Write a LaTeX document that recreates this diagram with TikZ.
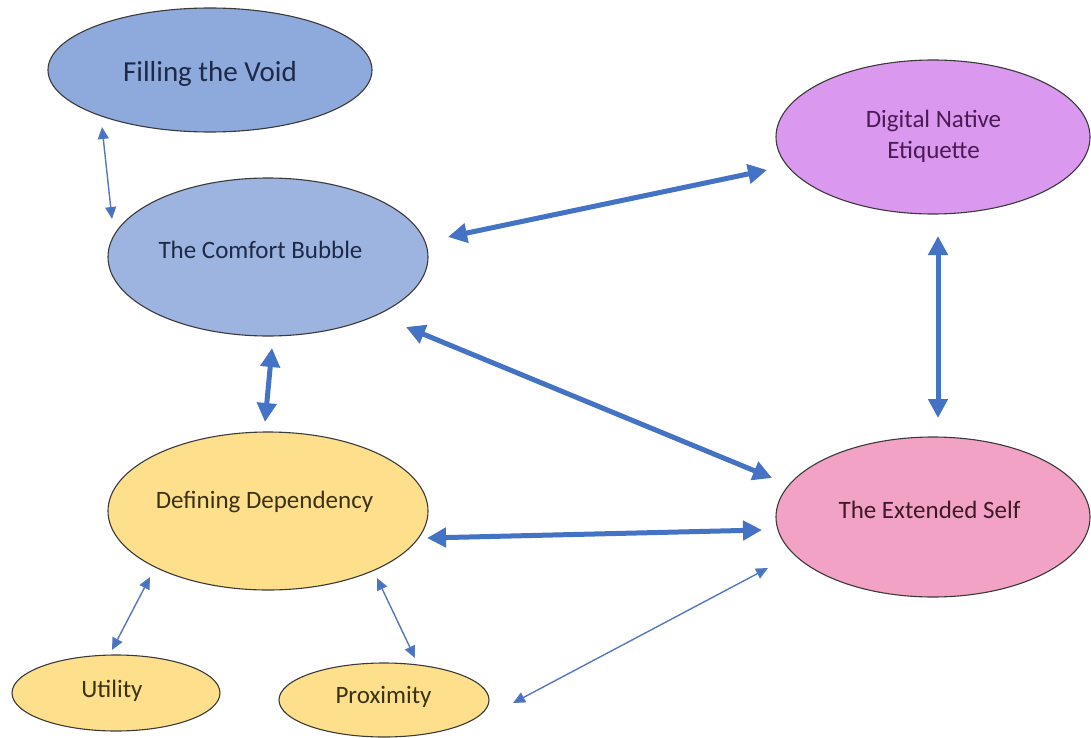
\documentclass[tikz,border=0pt]{standalone}
\usepackage{fontspec}
\setmainfont{Carlito}
\usetikzlibrary{shapes.geometric,arrows.meta,calc}
\definecolor{fvfill}{HTML}{8EA9DB}
\definecolor{cbfill}{HTML}{9DB4E0}
\definecolor{dnfill}{HTML}{DA98EE}
\definecolor{esfill}{HTML}{F2A2C4}
\definecolor{ylfill}{HTML}{FDDF8C}
\definecolor{edge}{HTML}{3A3A3A}
\definecolor{arrowblue}{HTML}{4472C4}
\definecolor{thinblue}{HTML}{5677BE}
\definecolor{bluetext}{HTML}{1C2A48}
\definecolor{purpletext}{HTML}{4A1A55}
\definecolor{pinktext}{HTML}{3E1A28}
\definecolor{yellowtext}{HTML}{3A3214}
\begin{document}
\begin{tikzpicture}[x=1pt,y=-1pt,
  oval/.style={ellipse, draw=edge, line width=1.1pt, inner sep=0pt, outer sep=0pt},
  lbl/.style={inner sep=0pt, anchor=base, font=\fontsize{25}{31}\selectfont},
  bigarrow/.style={draw=arrowblue, line width=5pt,
    {Triangle[length=19pt,width=19pt]}-{Triangle[length=19pt,width=19pt]}},
  thinarrow/.style={draw=thinblue, line width=1.4pt,
    {Triangle[length=12pt,width=11pt,fill=arrowblue]}-{Triangle[length=12pt,width=11pt,fill=arrowblue]}}]
\useasboundingbox[fill=white] (0,0) rectangle (1091,738);

% ellipses
\node[oval, fill=fvfill, minimum width=324pt, minimum height=124pt] (fv) at (210,70) {};
\node[oval, fill=cbfill, minimum width=320pt, minimum height=158pt] (cb) at (268,257) {};
\node[oval, fill=dnfill, minimum width=314pt, minimum height=154pt] (dn) at (933,137) {};
\node[oval, fill=esfill, minimum width=314pt, minimum height=160pt] (es) at (933,517) {};
\node[oval, fill=ylfill, minimum width=320pt, minimum height=158pt] (dd) at (268,511) {};
\node[oval, fill=ylfill, minimum width=208pt, minimum height=76pt] (ut) at (116,693) {};
\node[oval, fill=ylfill, minimum width=210pt, minimum height=74pt] (px) at (384,700) {};

% texts
\node[lbl, text=bluetext, font=\fontsize{29}{35}\selectfont] (fvt) at (210,82) {Filling the Void};
\node[lbl, text=bluetext] (cbt) at (260.5,258.5) {The Comfort Bubble};
\node[inner sep=0pt, align=center, text=purpletext, font=\fontsize{25}{31}\selectfont] (dnt) at (933.5,136) {Digital Native\\Etiquette};
\node[lbl, text=pinktext] (est) at (929.5,518.5) {The Extended Self};
\node[lbl, text=yellowtext] (ddt) at (264.5,508.5) {Defining Dependency};
\node[lbl, text=yellowtext] (utt) at (112,697) {Utility};
\node[lbl, text=yellowtext] (pxt) at (383.5,703) {Proximity};

% connectors
\draw[thinarrow] ($(fv)+(-108,57)$) -- ($(cb)+(-156,-38)$);
\draw[bigarrow] ($(cb)+(180,-20)$) -- ($(dn)+(-166,33)$);
\draw[bigarrow] ($(cb)+(138,70)$) -- ($(es)+(-161,-39)$);
\draw[bigarrow] ($(cb)+(4,91)$) -- ($(dd)+(-3,-89)$);
\draw[bigarrow] ($(dn)+(5,99)$) -- ($(es)+(5,-99)$);
\draw[bigarrow] ($(dd)+(159,27)$) -- ($(es)+(-171,13)$);
\draw[thinarrow] ($(dd)+(-118,66)$) -- ($(ut)+(-4,-43)$);
\draw[thinarrow] ($(dd)+(109,67)$) -- ($(px)+(31,-42)$);
\draw[thinarrow] ($(px)+(129,3)$) -- ($(es)+(-165,51)$);
\end{tikzpicture}
\end{document}
